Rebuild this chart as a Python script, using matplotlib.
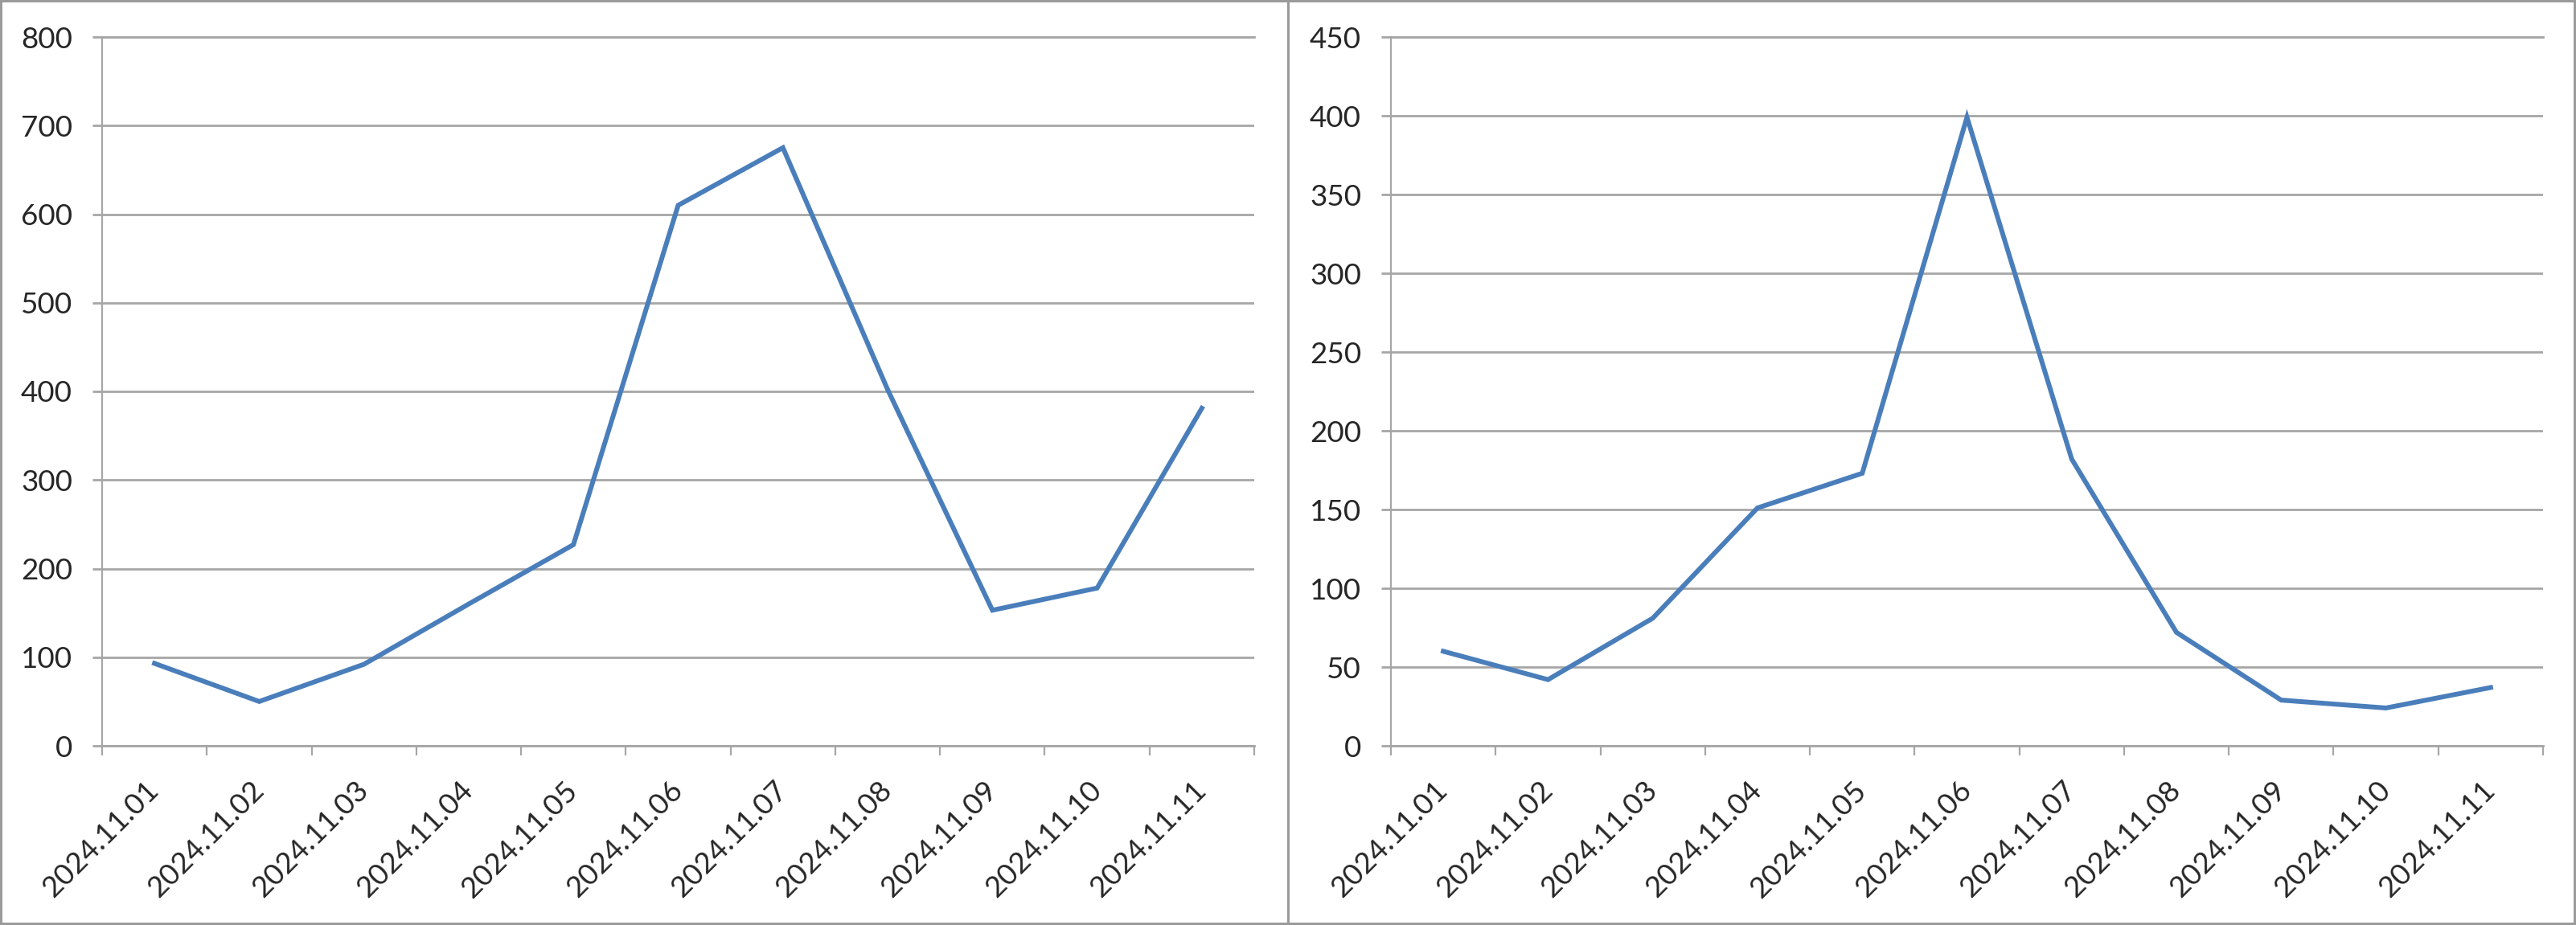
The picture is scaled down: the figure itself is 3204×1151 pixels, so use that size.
import numpy as np
import matplotlib
matplotlib.use("Agg")
import matplotlib.pyplot as plt
from matplotlib.patches import Rectangle
from matplotlib.lines import Line2D

# daily counts
dates = ["2024.11.01", "2024.11.02", "2024.11.03", "2024.11.04", "2024.11.05",
         "2024.11.06", "2024.11.07", "2024.11.08", "2024.11.09", "2024.11.10",
         "2024.11.11"]
left_values = [93, 50, 92, 160, 227, 610, 675, 402, 153, 178, 381]
right_values = [60, 42, 81, 151, 173, 399, 182, 72, 29, 24, 37]

left_ticks = [0, 100, 200, 300, 400, 500, 600, 700, 800]
right_ticks = [0, 50, 100, 150, 200, 250, 300, 350, 400, 450]

LINE_BLUE = "#4a7ebb"
GRID_GRAY = "#a6a6a6"
TEXT_COLOR = "#262626"

plt.rcParams["font.family"] = ["Lato", "DejaVu Sans"]

W, H = 3204, 1151
fig = plt.figure(figsize=(W / 100, H / 100), dpi=100)


def draw_panel(left_px, values, yticks):
    ax = fig.add_axes([left_px / W, 1 - 928 / H, 1433 / W, (928 - 46) / H])
    x = np.arange(len(values))
    ax.plot(x, values, color=LINE_BLUE, lw=4.3, solid_joinstyle="miter", zorder=3)

    ax.set_xlim(-0.5, len(values) - 0.5)
    ax.set_ylim(yticks[0], yticks[-1])

    # tick marks sit between categories, labels at the category centres
    ax.set_xticks(np.arange(len(values) + 1) - 0.5)
    ax.set_xticklabels([])
    ax.set_xticks(x, minor=True)
    ax.set_xticklabels(dates, minor=True, rotation=45, ha="right",
                       va="center", rotation_mode="anchor",
                       fontsize=26.5, color=TEXT_COLOR)
    ax.tick_params(axis="x", which="major", length=8.6, width=1.6,
                   color=GRID_GRAY, direction="out")
    ax.tick_params(axis="x", which="minor", length=0, pad=36)

    ax.set_yticks(yticks)
    ax.set_yticklabels([str(t) for t in yticks], fontsize=26.5, color=TEXT_COLOR)
    ax.tick_params(axis="y", length=8.6, width=2.0, color=GRID_GRAY,
                   direction="out", pad=18)

    ax.grid(axis="y", color=GRID_GRAY, lw=2.0)
    ax.set_axisbelow(True)
    for side in ["left", "bottom", "top"]:
        ax.spines[side].set_color(GRID_GRAY)
        ax.spines[side].set_linewidth(2.0)
    ax.spines["left"].set_linewidth(1.6)
    ax.spines["right"].set_visible(False)
    return ax


draw_panel(127, left_values, left_ticks)
draw_panel(1730, right_values, right_ticks)

# outer frame and the divider between the two charts
fig.add_artist(Rectangle((0, 0), 1, 1, transform=fig.transFigure,
                         fill=False, edgecolor="#9a9a9a", lw=4.3))
fig.add_artist(Line2D([1602 / W, 1602 / W], [0, 1], transform=fig.transFigure,
                      color="#9a9a9a", lw=2.2))

fig.savefig("out.png", dpi=100, facecolor="white")
